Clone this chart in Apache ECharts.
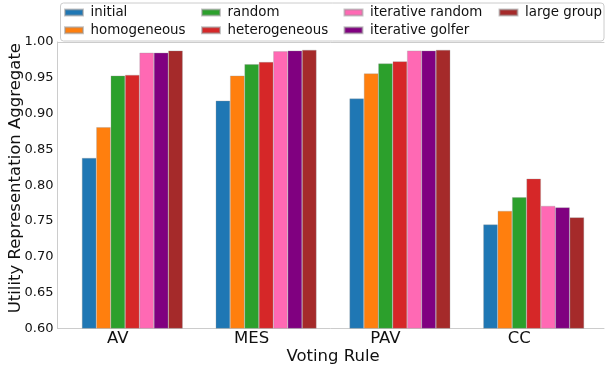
<!DOCTYPE html>
<html>
<head>
<meta charset="utf-8">
<script src="https://cdn.jsdelivr.net/npm/echarts@6/dist/echarts.min.js"></script>
<style>html,body{margin:0;padding:0;background:#fff}#c{width:605px;height:366px}</style>
</head>
<body>
<div id="c"></div>
<script>
const categories = ['AV', 'MES', 'PAV', 'CC'];
const seriesNames = ['initial', 'homogeneous', 'random', 'heterogeneous', 'iterative random', 'iterative golfer', 'large group'];
const initial         = [0.838, 0.918, 0.921, 0.745];
const homogeneous     = [0.881, 0.953, 0.956, 0.764];
const random          = [0.953, 0.969, 0.970, 0.783];
const heterogeneous   = [0.954, 0.972, 0.973, 0.809];
const iterativeRandom = [0.985, 0.987, 0.988, 0.771];
const iterativeGolfer = [0.985, 0.988, 0.988, 0.769];
const largeGroup      = [0.988, 0.989, 0.989, 0.755];
const yTicks = { min: 0.60, max: 1.00, interval: 0.05 };

const seriesValues = [initial, homogeneous, random, heterogeneous, iterativeRandom, iterativeGolfer, largeGroup];
const colors = ['#1f77b4', '#ff7f0e', '#2ca02c', '#d62728', '#ff69b4', '#800080', '#a52a2a'];
const FONT = 'DejaVu Sans';
const spine = '#cccccc';

const chart = echarts.init(document.getElementById('c'), null, { renderer: 'canvas' });

function legendCol(names, left) {
  return {
    data: names, orient: 'vertical', left: left, top: 5.5, padding: 0,
    itemWidth: 18, itemHeight: 6, itemGap: 3.8, icon: 'rect',
    selectedMode: false,
    textStyle: { fontFamily: FONT, fontSize: 13.4, color: '#111', lineHeight: 14, padding: [0, 0, 0, 2.5] }
  };
}

const option = {
  animation: false,
  color: colors,
  textStyle: { fontFamily: FONT },
  graphic: [{
    type: 'rect', z: -10, silent: true,
    shape: { x: 60.5, y: 3, width: 543.5, height: 38, r: 3 },
    style: { fill: 'rgba(255,255,255,0.8)', stroke: spine, lineWidth: 1 }
  }],
  legend: [
    legendCol(['initial', 'homogeneous'], 64),
    legendCol(['random', 'heterogeneous'], 201),
    legendCol(['iterative random', 'iterative golfer'], 343.5),
    legendCol(['large group'], 498.5)
  ],
  grid: [
    { left: 65.4, right: 4.4, top: 42, bottom: 37.7, containLabel: false, outerBoundsMode: 'none' },
    { left: 57.5, right: 1, top: 42, bottom: 37.7, containLabel: false, outerBoundsMode: 'none' }
  ],
  xAxis: [
    {
      type: 'category', gridIndex: 0, data: categories,
      axisLine: { show: false }, axisTick: { show: false },
      axisLabel: { fontFamily: FONT, fontSize: 16.5, color: '#111', margin: 1.5, padding: [0, 29, 0, 0] },
      name: 'Voting Rule', nameLocation: 'middle', nameGap: 19.5, nameMoveOverlap: false,
      nameTextStyle: { fontFamily: FONT, fontSize: 16.5, color: '#111' }
    },
    {
      type: 'value', gridIndex: 1, position: 'bottom', min: 0, max: 1,
      axisLine: { show: true, lineStyle: { color: spine, width: 1 } },
      axisTick: { show: false }, axisLabel: { show: false }, splitLine: { show: false }
    },
    {
      type: 'value', gridIndex: 1, position: 'top', min: 0, max: 1,
      axisLine: { show: true, lineStyle: { color: spine, width: 1 } },
      axisTick: { show: false }, axisLabel: { show: false }, splitLine: { show: false }
    }
  ],
  yAxis: [
    {
      type: 'value', gridIndex: 0, min: yTicks.min, max: yTicks.max, interval: yTicks.interval,
      show: false, splitLine: { show: false }
    },
    {
      type: 'value', gridIndex: 1, min: yTicks.min, max: yTicks.max, interval: yTicks.interval,
      axisLine: { show: true, lineStyle: { color: spine, width: 1 } },
      axisTick: { show: false }, splitLine: { show: false },
      axisLabel: { fontFamily: FONT, fontSize: 13, color: '#111', margin: 4, formatter: v => v.toFixed(2) },
      name: 'Utility Representation Aggregate', nameLocation: 'middle', nameGap: 33, nameMoveOverlap: false,
      nameTextStyle: { fontFamily: FONT, fontSize: 16.5, color: '#111', padding: [0, 0, 0, 14] }
    }
  ],
  series: seriesNames.map((n, i) => ({
    name: n, type: 'bar', xAxisIndex: 0, yAxisIndex: 0,
    data: seriesValues[i], barWidth: 14.4, barGap: '0%',
    itemStyle: { color: colors[i], borderColor: 'rgba(150,150,150,0.55)', borderWidth: 0.6 }
  }))
};
chart.setOption(option);
</script>
</body>
</html>
